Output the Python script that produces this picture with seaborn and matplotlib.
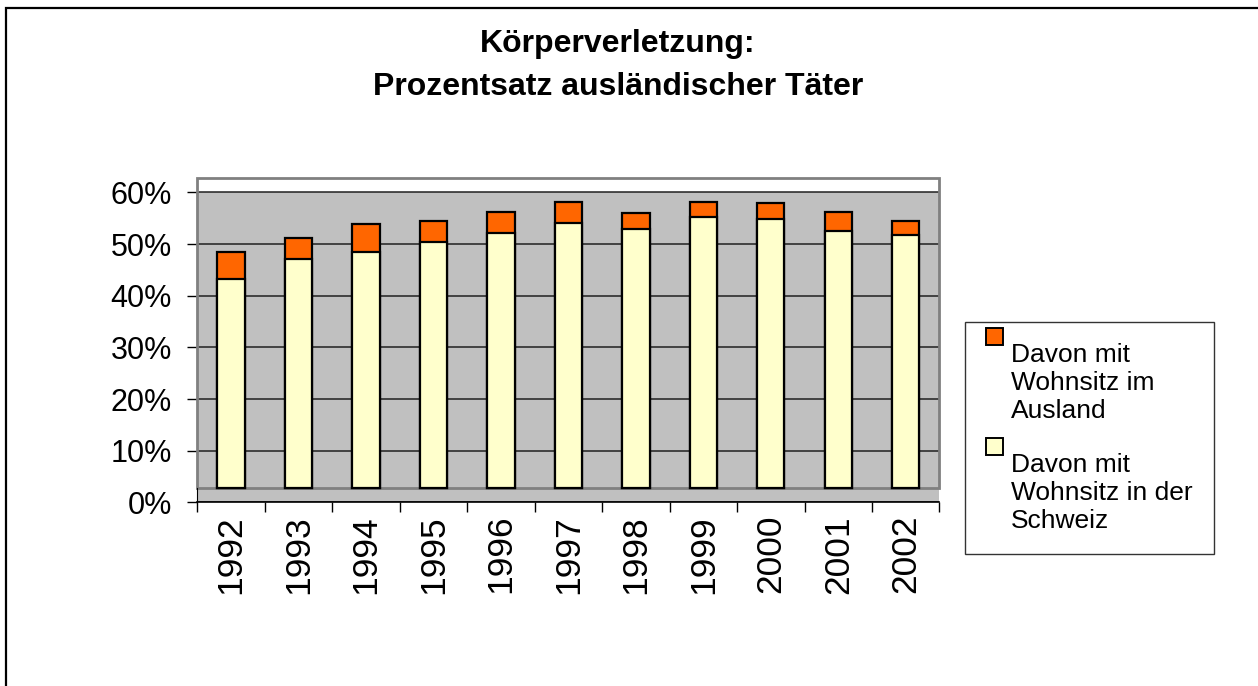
import numpy as np
import pandas as pd
import matplotlib
matplotlib.use("Agg")
import matplotlib.pyplot as plt
from matplotlib.patches import Rectangle
from matplotlib.legend_handler import HandlerPatch
from matplotlib.ticker import PercentFormatter
import seaborn as sns

# Körperverletzung: Anteil ausländischer Täter
jahre = ["1992", "1993", "1994", "1995", "1996", "1997", "1998", "1999", "2000", "2001", "2002"]
schweiz = [0.433, 0.472, 0.485, 0.504, 0.521, 0.540, 0.530, 0.552, 0.548, 0.525, 0.517]
ausland = [0.051, 0.040, 0.054, 0.041, 0.041, 0.042, 0.030, 0.029, 0.032, 0.037, 0.027]
labels = ["Davon mit\nWohnsitz im\nAusland", "Davon mit\nWohnsitz in der\nSchweiz"]

df = pd.DataFrame({"Jahr": jahre, "Schweiz": schweiz, "Ausland": ausland})
df["Total"] = df["Schweiz"] + df["Ausland"]

sns.set_style("white")
plt.rcParams["font.family"] = ["Liberation Sans", "DejaVu Sans"]
plt.rcParams["text.color"] = "black"
plt.rcParams["xtick.color"] = "black"
plt.rcParams["ytick.color"] = "black"

orange = "#FF6600"
gelb = "#FFFFCC"
boden = 0.0275   # 3D-Boden der Excel-Grafik
oben = 0.6277

fig = plt.figure(figsize=(12.58, 6.86), dpi=100)
ax = fig.add_axes([0.1568, 0.2675, 0.590, 0.473])

sns.barplot(data=df, x="Jahr", y="Total", color=orange, saturation=1, width=0.405,
            edgecolor="black", linewidth=1.6, zorder=3, ax=ax)
sns.barplot(data=df, x="Jahr", y="Schweiz", color=gelb, saturation=1, width=0.405,
            edgecolor="black", linewidth=1.6, zorder=3, ax=ax)

# Säulen stehen auf dem Boden, nicht auf 0
for cont in ax.containers:
    for bar in cont:
        bar.set_height(bar.get_height() - boden)
        bar.set_y(boden)

ax.set_xlim(-0.5, 10.5)
ax.set_ylim(0, oben)

# grauer Hintergrund + Rahmen der Zeichnungsfläche
ax.axhspan(0, 0.6, color="#C0C0C0", zorder=0, lw=0)
ax.add_patch(Rectangle((-0.5, boden), 11, oben - boden, fill=False, edgecolor="#808080",
                       lw=2, zorder=2.5, clip_on=False))

ax.set_yticks(np.arange(0, 0.61, 0.1))
ax.yaxis.set_major_formatter(PercentFormatter(1.0, decimals=0))
ax.yaxis.grid(True, color="#202020", lw=1.1)
ax.set_axisbelow(True)
ax.tick_params(axis="y", direction="out", length=7.2, width=1, color="black",
               labelsize=22, pad=11, left=True)

ax.set_xticks(range(len(jahre)))
ax.set_xticklabels(jahre, rotation=90)
ax.set_xticks(np.arange(-0.5, len(jahre), 1), minor=True)
ax.tick_params(axis="x", which="major", length=0, labelsize=25.5, pad=9)
ax.tick_params(axis="x", which="minor", direction="out", length=7.2, width=1,
               color="black", bottom=True)

ax.set_xlabel("")
ax.set_ylabel("")
ax.spines["top"].set_visible(False)
ax.spines["right"].set_visible(False)
ax.spines["left"].set_color("black")
ax.spines["left"].set_bounds(0, boden)
ax.spines["bottom"].set_color("black")
ax.spines["bottom"].set_linewidth(1.2)

fig.text(0.491, 1 - 29 / 686, "Körperverletzung:\nProzentsatz ausländischer Täter",
         ha="center", va="top", fontsize=23, fontweight="bold", linespacing=1.55)


# Legendenkästchen sitzen wie in Excel etwas oberhalb der ersten Textzeile
def kaestchen(legend, orig_handle, xdescent, ydescent, width, height, fontsize):
    return Rectangle((-xdescent, -ydescent + 11), width, height)


handles = [Rectangle((0, 0), 1, 1, fc=orange, ec="black", lw=1.4),
           Rectangle((0, 0), 1, 1, fc=gelb, ec="black", lw=1.4)]
leg = fig.legend(handles, labels, loc="upper left", bbox_to_anchor=(965 / 1258, 1 - 322 / 686),
                 frameon=True, fancybox=False, edgecolor="black", fontsize=19,
                 handlelength=0.65, handleheight=0.65, handletextpad=0.3,
                 labelspacing=1.15, borderpad=0.8, borderaxespad=0,
                 handler_map={Rectangle: HandlerPatch(patch_func=kaestchen)})
leg.get_frame().set_linewidth(1.0)
for col in leg._legend_handle_box.get_children():
    for row in col.get_children():
        row.align = "top"

# Rahmen des Diagrammbereichs (rechts und unten abgeschnitten)
fig.add_artist(Rectangle((6.5 / 1258, -0.05), 1.2, 1.05 - 8 / 686, transform=fig.transFigure,
                         fill=False, edgecolor="black", lw=1.6))

fig.savefig("out.png", dpi=100)
